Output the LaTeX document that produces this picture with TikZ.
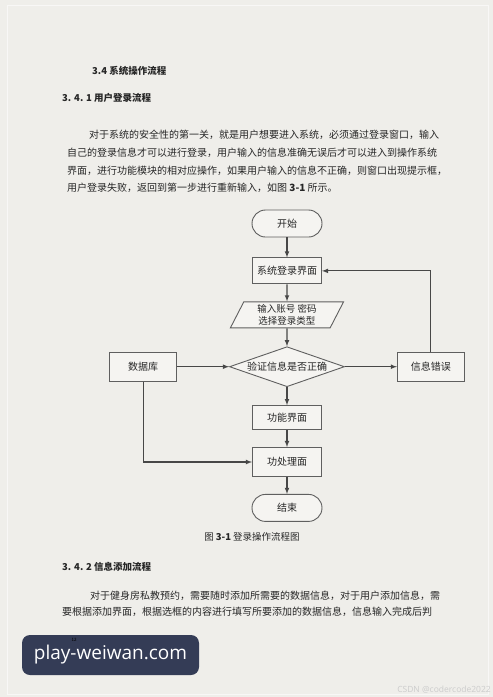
\documentclass[tikz,border=0pt]{standalone}
\usepackage{fontspec}
\setmainfont{Noto Sans CJK SC}
\newfontfamily\sitefont{Open Sans}
\usepackage{tikz}
\usetikzlibrary{shapes.geometric,arrows,positioning}
\usepackage{xcolor}
\definecolor{pagegray}{RGB}{239,238,234}
\definecolor{inkgray}{RGB}{38,38,38}
\definecolor{linegray}{RGB}{95,95,95}
\definecolor{badgeblue}{RGB}{52,60,86}
% stretchable glue between CJK characters, for justified lines
\XeTeXinterchartokenstate=1
\XeTeXinterchartoks 1 1 = {\hskip 0pt plus 2pt\relax}
\XeTeXinterchartoks 1 3 = {\hskip 0pt plus 2pt\relax}
\XeTeXinterchartoks 3 1 = {\hskip 0pt plus 2pt\relax}

\begin{document}
\begin{tikzpicture}[
        x=1pt, y=-1pt,
        node distance=18pt and 52pt,
        terminal/.style={
            rectangle,
            rounded corners=13.5pt,
            minimum width=70pt,
            minimum height=27pt,
            draw=linegray,
            line width=0.9pt,
            fill=white!35!pagegray,
            text=inkgray,
            font=\fontsize{10pt}{12pt}\selectfont
        },
        process/.style={
            rectangle,
            minimum width=69pt,
            minimum height=26pt,
            draw=linegray,
            line width=0.9pt,
            fill=white!35!pagegray,
            text=inkgray,
            font=\fontsize{10pt}{12pt}\selectfont
        },
        side/.style={
            process,
            minimum width=67pt,
            minimum height=29pt
        },
        io/.style={
            trapezium,
            trapezium left angle=67,
            trapezium right angle=113,
            trapezium stretches=true,
            minimum width=114pt,
            minimum height=26pt,
            inner sep=1pt,
            draw=linegray,
            line width=0.9pt,
            fill=white!35!pagegray,
            text=inkgray,
            align=center,
            font=\fontsize{9.5pt}{11.5pt}\selectfont
        },
        decision/.style={
            diamond,
            aspect=3,
            inner sep=0pt,
            minimum width=115pt,
            minimum height=40pt,
            draw=linegray,
            line width=0.9pt,
            fill=white!35!pagegray,
            text=inkgray,
            font=\fontsize{10pt}{12pt}\selectfont
        },
        arrow/.style={
            ->,
            >=latex,
            line width=1.1pt,
            color=inkgray!85
        },
        bodyline/.style={
            anchor=west,
            inner sep=0pt,
            text=inkgray,
            font=\fontsize{10pt}{12pt}\selectfont
        },
        heading/.style={
            anchor=west,
            inner sep=0pt,
            text=inkgray,
            font=\fontsize{9.5pt}{11pt}\selectfont\bfseries
        },
        badge/.style={
            rectangle,
            rounded corners=8pt,
            minimum width=177pt,
            minimum height=40pt,
            fill=badgeblue,
            text=white,
            font=\sitefont\fontsize{19pt}{22pt}\selectfont
        }
    ]

    % Page
    \useasboundingbox (0,0) rectangle (493,697);
    \fill[pagegray] (0,0) rectangle (493,697);
    \draw[white!55!pagegray, line width=1pt] (7,5) rectangle (488,694);

    % Section headings and first paragraph
    \node[heading] (sec) at (92,71) {3.4 系统操作流程};
    \node[heading] (sub1) at (62,98) {3. 4. 1 用户登录流程};
    \node[bodyline] (p1a) at (89,135) {\makebox[346pt][s]{对于系统的安全性的第一关，就是用户想要进入系统，必须通过登录窗口，输入}};
    \node[bodyline] (p1b) at (67,153) {\makebox[368pt][s]{自己的登录信息才可以进行登录，用户输入的信息准确无误后才可以进入到操作系统}};
    \node[bodyline] (p1c) at (67,171) {\makebox[368pt][s]{界面，进行功能模块的相对应操作，如果用户输入的信息不正确，则窗口出现提示框，}};
    \node[bodyline] (p1d) at (67,188) {用户登录失败，返回到第一步进行重新输入，如图 \textbf{3-1} 所示。};

    % Flowchart: main column
    \node[terminal] (start) at (287,223.5) {开始};
    \node[process, below=20pt of start] (login) {系统登录界面};
    \node[io, below=17pt of login] (input) {输入账号 密码\\选择登录类型};
    \node[decision, below=of input] (check) {验证信息是否正确};
    \node[process, minimum height=24pt, below=of check] (func) {功能界面};
    \node[process, minimum height=29pt, below=17pt of func] (proc) {功处理面};
    \node[terminal, below=17pt of proc] (end) {结束};

    % Flowchart: side boxes
    \node[side, left=of check] (db) {数据库};
    \node[side, right=of check] (err) {信息错误};

    % Connectors
    \draw[arrow] (start) -- (login);
    \draw[arrow] (login) -- (input);
    \draw[arrow] (input) -- (check);
    \draw[arrow] (db) -- (check);
    \draw[arrow] (check) -- (err);
    \draw[arrow] (err.north) |- (login.east);
    \draw[arrow] (check) -- (func);
    \draw[arrow] (func) -- (proc);
    \draw[arrow] (db.south) |- (proc.west);
    \draw[arrow] (proc) -- (end);

    % Caption
    \node[bodyline, anchor=center, font=\fontsize{9.5pt}{11pt}\selectfont] (cap) at (252,537) {图 \textbf{3-1} 登录操作流程图};

    % Second subsection
    \node[heading] (sub2) at (62,567) {3. 4. 2 信息添加流程};
    \node[bodyline] (p2a) at (90,596) {\makebox[345pt][s]{对于健身房私教预约，需要随时添加所需要的数据信息，对于用户添加信息，需}};
    \node[bodyline] (p2b) at (62,612) {\makebox[373pt][s]{要根据添加界面，根据选框的内容进行填写所要添加的数据信息，信息输入完成后判}};

    % Footer
    \node[badge] (site) at (110.5,655) {play-weiwan.com};
    \node[inner sep=0pt, text=black, font=\fontsize{4.5pt}{5pt}\selectfont] (pno) at (74,640) {12};
    \node[anchor=east, inner sep=0pt, text=black!20, font=\sitefont\fontsize{8.5pt}{9pt}\selectfont] (mark) at (491,690) {CSDN @codercode2022};

\end{tikzpicture}
\end{document}
